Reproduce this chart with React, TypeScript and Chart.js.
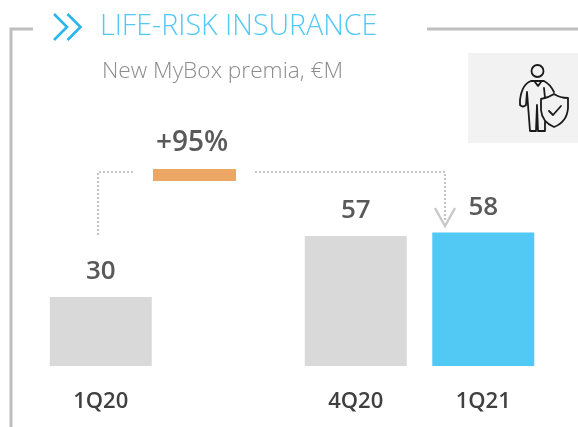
import React, { useEffect, useRef } from "react";
import { Chart, registerables } from "chart.js";

Chart.register(...registerables);

const categories = ["1Q20", "", "4Q20", "1Q21"];
const premia = [30, null, 56.5, 58];
const valueLabels = ["30", "", "57", "58"];
const barColors = ["#d9d9d9", "#d9d9d9", "#d9d9d9", "#52c8f5"];
const titleText = "LIFE-RISK INSURANCE";
const subtitleText = "New MyBox premia, €M";
const growthText = "+95%";

const FONT = '"Open Sans", "Noto Sans", sans-serif';

function drawIcon(ctx: CanvasRenderingContext2D) {
  ctx.save();
  ctx.strokeStyle = "#1a1a1a";
  ctx.lineWidth = 1.8;
  ctx.lineJoin = "round";
  ctx.lineCap = "round";
  ctx.beginPath();
  ctx.arc(537.5, 71, 6, 0, Math.PI * 2);
  ctx.stroke();
  ctx.beginPath();
  ctx.moveTo(531, 81);
  ctx.quadraticCurveTo(522, 84, 520, 100);
  ctx.lineTo(520, 105);
  ctx.quadraticCurveTo(523, 108, 526, 105);
  ctx.lineTo(527, 92);
  ctx.lineTo(530, 131);
  ctx.lineTo(536, 131);
  ctx.lineTo(537, 105);
  ctx.lineTo(538, 131);
  ctx.lineTo(545, 131);
  ctx.lineTo(545, 122);
  ctx.moveTo(531, 81);
  ctx.lineTo(544, 81);
  ctx.quadraticCurveTo(550, 84, 554, 92);
  ctx.moveTo(535, 82);
  ctx.lineTo(538, 86);
  ctx.lineTo(541, 82);
  ctx.moveTo(544, 88);
  ctx.lineTo(545, 98);
  ctx.stroke();
  ctx.beginPath();
  ctx.moveTo(554, 94);
  ctx.quadraticCurveTo(548, 98, 541, 99);
  ctx.lineTo(541, 110);
  ctx.quadraticCurveTo(542, 122, 554, 127);
  ctx.quadraticCurveTo(567, 122, 568, 108);
  ctx.lineTo(568, 98);
  ctx.quadraticCurveTo(560, 98, 554, 94);
  ctx.stroke();
  ctx.beginPath();
  ctx.moveTo(549, 111);
  ctx.lineTo(553, 115);
  ctx.lineTo(561, 106);
  ctx.stroke();
  ctx.restore();
}

const decorPlugin = {
  id: "decor",
  afterDraw(chart: any) {
    const ctx: CanvasRenderingContext2D = chart.ctx;
    const meta = chart.getDatasetMeta(0);
    ctx.save();

    // frame
    ctx.strokeStyle = "#bfbfbf";
    ctx.lineWidth = 3;
    ctx.beginPath();
    ctx.moveTo(33, 29);
    ctx.lineTo(11, 29);
    ctx.lineTo(11, 427);
    ctx.moveTo(427, 29);
    ctx.lineTo(578, 29);
    ctx.stroke();

    // chevrons
    ctx.strokeStyle = "#29b6ef";
    ctx.lineWidth = 2.6;
    ctx.beginPath();
    ctx.moveTo(54, 14);
    ctx.lineTo(67, 27);
    ctx.lineTo(54, 40);
    ctx.moveTo(67.5, 14);
    ctx.lineTo(80.5, 27);
    ctx.lineTo(67.5, 40);
    ctx.stroke();

    // title texts
    ctx.textAlign = "left";
    ctx.textBaseline = "alphabetic";
    ctx.fillStyle = "#52c8f5";
    ctx.font = `300 28.6px ${FONT}`;
    ctx.fillText(titleText, 100, 35);
    ctx.fillStyle = "#8c8c8c";
    ctx.font = `300 22.7px ${FONT}`;
    ctx.fillText(subtitleText, 102, 78);

    // icon box
    ctx.fillStyle = "#f2f2f2";
    ctx.fillRect(468, 53, 110, 90);
    drawIcon(ctx);

    // growth marker
    ctx.fillStyle = "#eda765";
    ctx.fillRect(153, 169, 83, 12);
    ctx.fillStyle = "#595959";
    ctx.font = `600 28px ${FONT}`;
    ctx.textAlign = "center";
    ctx.fillText(growthText, 192, 151);

    // value labels
    ctx.font = `600 26px ${FONT}`;
    meta.data.forEach((el: any, i: number) => {
      if (!valueLabels[i]) return;
      ctx.fillText(valueLabels[i], el.x, el.y - 18);
    });

    // connectors
    ctx.strokeStyle = "#c4c4c4";
    ctx.lineWidth = 2.2;
    ctx.setLineDash([2, 2]);
    ctx.beginPath();
    ctx.moveTo(98, 235);
    ctx.lineTo(98, 172);
    ctx.lineTo(134, 172);
    ctx.moveTo(255, 172);
    ctx.lineTo(445, 172);
    ctx.lineTo(445, 222);
    ctx.stroke();
    ctx.setLineDash([]);
    ctx.strokeStyle = "#c8c8c8";
    ctx.lineWidth = 2.4;
    ctx.beginPath();
    ctx.moveTo(435, 208);
    ctx.lineTo(445, 226);
    ctx.lineTo(455, 208);
    ctx.stroke();
    ctx.restore();
  },
};

export default function App() {
  const ref = useRef<HTMLCanvasElement>(null);
  useEffect(() => {
    document.body.style.margin = "0";
    const chart = new Chart(ref.current!, {
      type: "bar",
      data: {
        labels: categories,
        datasets: [
          {
            data: premia,
            backgroundColor: barColors,
            barPercentage: 1,
            categoryPercentage: 0.8,
          },
        ],
      },
      options: {
        responsive: false,
        animation: false,
        devicePixelRatio: 1,
        layout: { padding: { left: 37, right: 31, top: 136, bottom: 0 } },
        plugins: { legend: { display: false }, tooltip: { enabled: false } },
        scales: {
          x: {
            afterFit(scale: any) {
              scale.height = 61;
            },
            grid: { display: false },
            border: { display: false },
            ticks: {
              color: "#404040",
              padding: 15,
              maxRotation: 0,
              autoSkip: false,
              font: { family: FONT, size: 22, weight: 600 },
            },
          },
          y: { display: false, min: 0, max: 100 },
        },
      },
      plugins: [decorPlugin],
    });
    return () => chart.destroy();
  }, []);
  return (
    <div style={{ width: 578, height: 427, overflow: "hidden" }}>
      <canvas ref={ref} width={578} height={427} style={{ display: "block" }} />
    </div>
  );
}
